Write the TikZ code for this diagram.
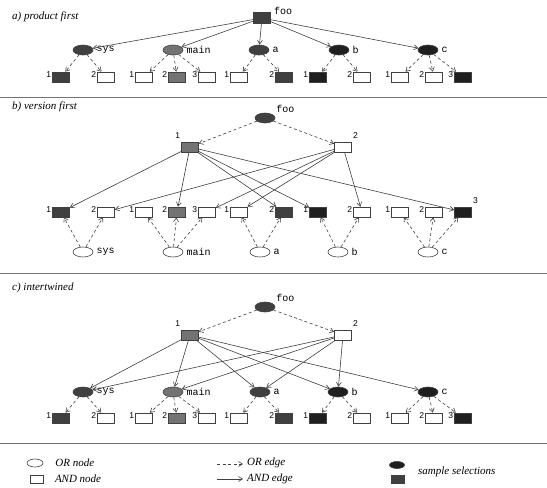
\documentclass[tikz,border=0pt]{standalone}
\usepackage{fontspec}
\setmainfont{Liberation Serif}
\setmonofont{Liberation Mono}
\newfontfamily\numfont{Liberation Sans}
\usetikzlibrary{shapes.geometric,arrows.meta}

\begin{document}
\begin{tikzpicture}[x=1pt,y=-1pt,
  ornode/.style={ellipse,draw=black!75,line width=0.6pt,minimum width=20pt,minimum height=10pt,inner sep=0pt},
  andnode/.style={rectangle,draw=black!75,line width=0.6pt,minimum width=17pt,minimum height=10pt,inner sep=0pt},
  selmid/.style={fill=black!55},
  seldark/.style={fill=black!75},
  selblack/.style={fill=black!88},
  num/.style={font=\numfont\fontsize{8.5}{8.5}\selectfont,inner sep=1pt,yshift=2pt},
  mono/.style={font=\ttfamily\fontsize{10}{10}\selectfont,inner sep=1pt},
  orlabel/.style={mono,xshift=2pt},
  title/.style={font=\itshape\fontsize{11}{11}\selectfont,anchor=west,inner sep=0pt},
  legend/.style={font=\itshape\fontsize{11}{11}\selectfont,anchor=west,inner sep=0pt},
  andedge/.style={draw=black!75,line width=0.6pt,-{Straight Barb[length=4pt,width=5pt]}},
  oredge/.style={andedge,dash pattern=on 3pt off 2.5pt},
  rule/.style={draw=black!55,line width=0.8pt}]
\useasboundingbox (0,0) rectangle (547,488);

% a) product first
\node (Atitle) at (12,17) [title] {a) product first};
\node (Afoo) at (262,18) [andnode,seldark,minimum height=11pt,label={[mono,xshift=2pt,yshift=-4pt]north east:foo}] {};
\node (Asys) at (83,50) [ornode,seldark,label={[orlabel]right:sys}] {};
\node (Amain) at (173,50) [ornode,selmid,label={[orlabel]right:main}] {};
\node (Aa) at (259,50) [ornode,seldark,label={[orlabel]right:a}] {};
\node (Ab) at (339,50) [ornode,selblack,label={[orlabel]right:b}] {};
\node (Ac) at (428,50) [ornode,selblack,label={[orlabel]right:c}] {};
\node (Asys1) at (61,77) [andnode,seldark,label={[num]left:1}] {};
\node (Asys2) at (106,77) [andnode,label={[num]left:2}] {};
\node (Amain1) at (144,77) [andnode,label={[num]left:1}] {};
\node (Amain2) at (177,77) [andnode,selmid,label={[num]left:2}] {};
\node (Amain3) at (207,77) [andnode,label={[num]left:3}] {};
\node (Aa1) at (239,77) [andnode,label={[num]left:1}] {};
\node (Aa2) at (284,77) [andnode,seldark,label={[num]left:2}] {};
\node (Ab1) at (318,77) [andnode,selblack,label={[num]left:1}] {};
\node (Ab2) at (362,77) [andnode,label={[num]left:2}] {};
\node (Ac1) at (400,77) [andnode,label={[num]left:1}] {};
\node (Ac2) at (434,77) [andnode,label={[num]left:2}] {};
\node (Ac3) at (463,77) [andnode,selblack,label={[num]left:3}] {};
\draw[andedge] (Afoo) -- (Asys);
\draw[andedge] (Afoo) -- (Amain);
\draw[andedge] (Afoo) -- (Aa);
\draw[andedge] (Afoo) -- (Ab);
\draw[andedge] (Afoo) -- (Ac);
\draw[oredge] (Asys) -- (Asys1);
\draw[oredge] (Asys) -- (Asys2);
\draw[oredge] (Amain) -- (Amain1);
\draw[oredge] (Amain) -- (Amain2);
\draw[oredge] (Amain) -- (Amain3);
\draw[oredge] (Aa) -- (Aa1);
\draw[oredge] (Aa) -- (Aa2);
\draw[oredge] (Ab) -- (Ab1);
\draw[oredge] (Ab) -- (Ab2);
\draw[oredge] (Ac) -- (Ac1);
\draw[oredge] (Ac) -- (Ac2);
\draw[oredge] (Ac) -- (Ac3);
\draw[rule] (0,97) -- (547,97);

% b) version first
\node (Btitle) at (12,107) [title] {b) version first};
\node (Bfoo) at (265,118) [ornode,seldark,label={[mono,xshift=3pt]north east:foo}] {};
\node (Bv1) at (190,147) [andnode,selmid,label={[num]north west:1}] {};
\node (Bv2) at (343,147) [andnode,label={[num]north east:2}] {};
\node (Bsys1) at (61,212) [andnode,seldark,label={[num]left:1}] {};
\node (Bsys2) at (106,212) [andnode,label={[num]left:2}] {};
\node (Bmain1) at (144,212) [andnode,label={[num]left:1}] {};
\node (Bmain2) at (177,212) [andnode,selmid,label={[num]left:2}] {};
\node (Bmain3) at (207,212) [andnode,label={[num]left:3}] {};
\node (Ba1) at (239,212) [andnode,label={[num]left:1}] {};
\node (Ba2) at (284,212) [andnode,seldark,label={[num]left:2}] {};
\node (Bb1) at (318,212) [andnode,selblack,label={[num]left:1}] {};
\node (Bb2) at (362,212) [andnode,label={[num]left:2}] {};
\node (Bc1) at (400,212) [andnode,label={[num]left:1}] {};
\node (Bc2) at (434,212) [andnode,label={[num]left:2}] {};
\node (Bc3) at (463,212) [andnode,selblack,label={[num]north east:3}] {};
\node (Bsys) at (83,252) [ornode,label={[orlabel]right:sys}] {};
\node (Bmain) at (173,252) [ornode,label={[orlabel]right:main}] {};
\node (Ba) at (260,252) [ornode,label={[orlabel]right:a}] {};
\node (Bb) at (338,252) [ornode,label={[orlabel]right:b}] {};
\node (Bc) at (428,252) [ornode,label={[orlabel]right:c}] {};
\draw[oredge] (Bfoo) -- (Bv1);
\draw[oredge] (Bfoo) -- (Bv2);
\draw[andedge] (Bv1) -- (Bsys1);
\draw[andedge] (Bv1) -- (Bmain2);
\draw[andedge] (Bv1) -- (Ba2);
\draw[andedge] (Bv1) -- (Bb1);
\draw[andedge] (Bv1) -- (Bc3);
\draw[andedge] (Bv2) -- (Bsys2);
\draw[andedge] (Bv2) -- (Bmain3);
\draw[andedge] (Bv2) -- (Ba1);
\draw[andedge] (Bv2) -- (Bb2);
\draw[oredge] (Bsys) -- (Bsys1);
\draw[oredge] (Bsys) -- (Bsys2);
\draw[oredge] (Bmain) -- (Bmain1);
\draw[oredge] (Bmain) -- (Bmain2);
\draw[oredge] (Bmain) -- (Bmain3);
\draw[oredge] (Ba) -- (Ba1);
\draw[oredge] (Ba) -- (Ba2);
\draw[oredge] (Bb) -- (Bb1);
\draw[oredge] (Bb) -- (Bb2);
\draw[oredge] (Bc) -- (Bc1);
\draw[oredge] (Bc) -- (Bc2);
\draw[oredge] (Bc) -- (Bc3);
\draw[rule] (0,273) -- (547,273);

% c) intertwined
\node (Ctitle) at (12,288) [title] {c) intertwined};
\node (Cfoo) at (265,307) [ornode,seldark,label={[mono,xshift=3pt]north east:foo}] {};
\node (Cv1) at (190,335) [andnode,selmid,label={[num]north west:1}] {};
\node (Cv2) at (343,335) [andnode,label={[num]north east:2}] {};
\node (Csys) at (83,392) [ornode,seldark,label={[orlabel]right:sys}] {};
\node (Cmain) at (173,392) [ornode,selmid,label={[orlabel]right:main}] {};
\node (Ca) at (260,392) [ornode,seldark,label={[orlabel]right:a}] {};
\node (Cb) at (338,392) [ornode,selblack,label={[orlabel]right:b}] {};
\node (Cc) at (428,392) [ornode,selblack,label={[orlabel]right:c}] {};
\node (Csys1) at (61,418) [andnode,seldark,label={[num]left:1}] {};
\node (Csys2) at (106,418) [andnode,label={[num]left:2}] {};
\node (Cmain1) at (144,418) [andnode,label={[num]left:1}] {};
\node (Cmain2) at (177,418) [andnode,selmid,label={[num]left:2}] {};
\node (Cmain3) at (207,418) [andnode,label={[num]left:3}] {};
\node (Ca1) at (239,418) [andnode,label={[num]left:1}] {};
\node (Ca2) at (284,418) [andnode,seldark,label={[num]left:2}] {};
\node (Cb1) at (318,418) [andnode,selblack,label={[num]left:1}] {};
\node (Cb2) at (362,418) [andnode,label={[num]left:2}] {};
\node (Cc1) at (400,418) [andnode,label={[num]left:1}] {};
\node (Cc2) at (434,418) [andnode,label={[num]left:2}] {};
\node (Cc3) at (463,418) [andnode,selblack,label={[num]left:3}] {};
\draw[oredge] (Cfoo) -- (Cv1);
\draw[oredge] (Cfoo) -- (Cv2);
\draw[andedge] (Cv1) -- (Csys);
\draw[andedge] (Cv1) -- (Cmain);
\draw[andedge] (Cv1) -- (Ca);
\draw[andedge] (Cv1) -- (Cb);
\draw[andedge] (Cv1) -- (Cc);
\draw[andedge] (Cv2) -- (Csys);
\draw[andedge] (Cv2) -- (Cmain);
\draw[andedge] (Cv2) -- (Ca);
\draw[andedge] (Cv2) -- (Cb);
\draw[oredge] (Csys) -- (Csys1);
\draw[oredge] (Csys) -- (Csys2);
\draw[oredge] (Cmain) -- (Cmain1);
\draw[oredge] (Cmain) -- (Cmain2);
\draw[oredge] (Cmain) -- (Cmain3);
\draw[oredge] (Ca) -- (Ca1);
\draw[oredge] (Ca) -- (Ca2);
\draw[oredge] (Cb) -- (Cb1);
\draw[oredge] (Cb) -- (Cb2);
\draw[oredge] (Cc) -- (Cc1);
\draw[oredge] (Cc) -- (Cc2);
\draw[oredge] (Cc) -- (Cc3);
\draw[rule] (0,443) -- (547,443);

% legend
\node (LGor) at (35,463) [ornode,minimum width=16pt,minimum height=8pt,label={[legend,xshift=12pt]right:OR node}] {};
\node (LGand) at (37,479) [andnode,minimum width=13pt,minimum height=8pt,label={[legend,xshift=11pt]right:AND node}] {};
\coordinate (LGoa) at (217,464);
\coordinate (LGob) at (243,464);
\node (LGoet) at (247,463) [legend] {OR edge};
\draw[oredge] (LGoa) -- (LGob);
\coordinate (LGaa) at (217,479);
\coordinate (LGab) at (243,479);
\node (LGaet) at (247,479) [legend] {AND edge};
\draw[andedge] (LGaa) -- (LGab);
\node (LGsor) at (397,465) [ornode,selblack,minimum width=15pt,minimum height=7pt] {};
\node (LGsand) at (398,479) [andnode,seldark,minimum width=13pt,minimum height=8pt] {};
\node (LGst) at (418,472) [legend] {sample selections};
\end{tikzpicture}
\end{document}
